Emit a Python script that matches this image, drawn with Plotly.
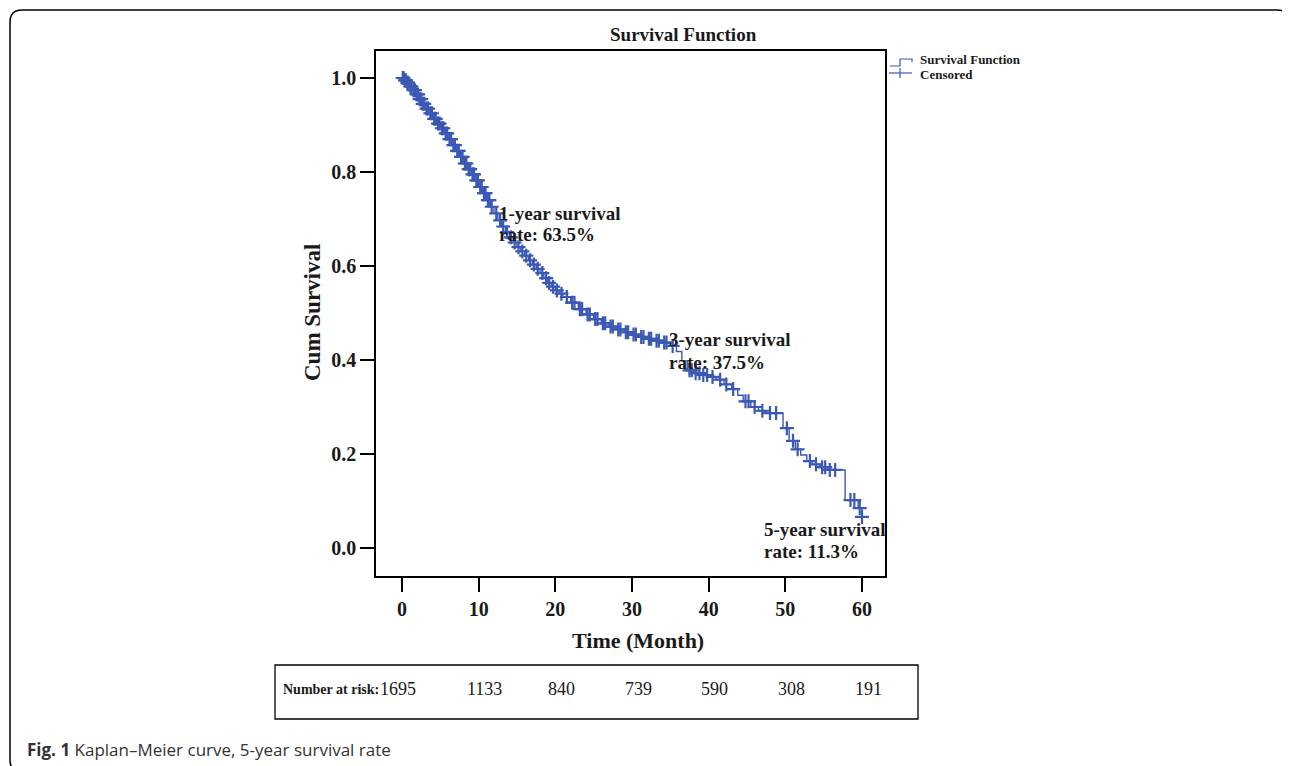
import numpy as np
import plotly.graph_objects as go

# page body has an 8px margin; the figure is shifted by OFF and sized to fit
OFF = 8
W, H = 1290 - OFF, 766 - OFF

# Kaplan-Meier step function
km_time = [0, 0.3, 0.6, 1.0, 1.4, 1.8, 2.2, 2.6, 3.0, 3.5, 4.0, 4.5, 5.0, 5.5, 6.0, 6.5,
           7.0, 7.5, 8.0, 8.5, 9.0, 9.5, 10.0, 10.5, 11.0, 11.5, 12.0, 12.5, 13.0, 13.5,
           14.0, 14.5, 15.0, 15.5, 16.0, 16.5, 17.0, 17.5, 18.0, 18.5, 19.0, 19.5, 20.0,
           20.5, 21.0, 22.0, 23.0, 24.0, 25.0, 26.0, 27.0, 28.0, 29.0, 30.0, 31.0, 32.0,
           33.0, 34.0, 35.0, 35.8, 36.5, 37.2, 38.0, 39.0, 40.0, 41.0, 42.0, 43.0, 43.8,
           44.5, 45.5, 46.5, 47.5, 49.7, 50.5, 51.3, 52.0, 52.8, 53.5, 54.5, 55.5, 57.8,
           59.5, 60.0]
km_surv = [1.000, 0.995, 0.990, 0.982, 0.974, 0.965, 0.955, 0.945, 0.935, 0.925, 0.913,
           0.903, 0.893, 0.882, 0.870, 0.857, 0.845, 0.832, 0.818, 0.806, 0.795, 0.782,
           0.768, 0.755, 0.740, 0.726, 0.712, 0.697, 0.684, 0.672, 0.661, 0.650, 0.640,
           0.631, 0.622, 0.612, 0.603, 0.594, 0.585, 0.574, 0.564, 0.556, 0.548, 0.541,
           0.534, 0.522, 0.508, 0.497, 0.487, 0.478, 0.471, 0.465, 0.459, 0.454, 0.449,
           0.445, 0.441, 0.437, 0.430, 0.418, 0.398, 0.378, 0.372, 0.368, 0.364, 0.358,
           0.348, 0.338, 0.325, 0.312, 0.300, 0.292, 0.287, 0.255, 0.228, 0.210, 0.198,
           0.185, 0.178, 0.172, 0.166, 0.102, 0.085, 0.066]

# censoring times
censor_time = [0.1, 0.2, 0.4, 0.5, 0.7, 0.8, 1.1, 1.2, 1.5, 1.7, 1.9, 2.1, 2.3, 2.5, 2.7,
               2.9, 3.2, 3.4, 3.7, 3.9, 4.2, 4.4, 4.7, 4.9, 5.2, 5.4, 5.7, 5.9, 6.2, 6.4,
               6.7, 6.9, 7.2, 7.4, 7.7, 7.9, 8.2, 8.4, 8.7, 8.9, 9.2, 9.4, 9.7, 9.9, 10.2,
               10.4, 10.7, 10.9, 11.2, 11.4, 11.7, 12.3, 12.8, 13.2, 13.7, 14.2, 14.7, 15.2,
               15.7, 16.2, 16.7, 17.2, 17.7, 18.3, 18.8, 19.2, 19.7, 20.2, 20.8, 21.5, 22.2,
               22.5, 23.2, 23.5, 24.2, 24.5, 25.2, 25.5, 26.2, 26.5, 27.2, 27.5, 28.2, 28.5,
               29.2, 29.5, 30.2, 30.5, 31.2, 31.5, 32.2, 32.5, 33.2, 33.5, 34.2, 34.5, 35.3,
               37.5, 37.8, 38.3, 38.8, 39.3, 39.8, 40.5, 41.5, 42.3, 43.2, 44.8, 45.2, 46.0,
               47.0, 48.0, 48.8, 50.2, 51.0, 51.6, 53.2, 54.0, 54.8, 55.2, 55.8, 56.5, 58.5,
               59.0, 59.7, 60.0]

x_ticks = [0, 10, 20, 30, 40, 50, 60]
y_ticks = [0.0, 0.2, 0.4, 0.6, 0.8, 1.0]
y_tick_labels = ["0.0", "0.2", "0.4", "0.6", "0.8", "1.0"]

risk_times = [0, 10, 20, 30, 40, 50, 60]
risk_counts = ["1695", "1133", "840", "739", "590", "308", "191"]

BLUE = "#3a58b4"
SERIF = "Liberation Serif"
TXT = "#1a1a1a"


def px(x):
    return (x - OFF) / W


def py(y):
    return 1 - (y - OFF) / H


idx = np.searchsorted(np.array(km_time), np.array(censor_time), side="right") - 1
censor_surv = [km_surv[i] for i in idx]

fig = go.Figure()
fig.add_trace(go.Scatter(x=km_time, y=km_surv, mode="lines", line_shape="hv",
                         line=dict(color=BLUE, width=1.4), showlegend=False,
                         name="Survival Function"))
fig.add_trace(go.Scatter(x=censor_time, y=censor_surv, mode="markers", showlegend=False,
                         name="Censored",
                         marker=dict(symbol="cross-thin", size=10,
                                     line=dict(color=BLUE, width=2.2))))

fig.update_xaxes(range=[-3.39, 63.0], domain=[px(376), px(885)], showline=True,
                 linecolor="black", linewidth=1.5, mirror=True, ticks="outside",
                 ticklen=14, tickwidth=1.5, tickcolor="black", tickvals=x_ticks,
                 showgrid=False, zeroline=False,
                 tickfont=dict(family=SERIF, size=20, color=TXT, weight="bold"))
fig.update_yaxes(range=[-0.0596, 1.0574], domain=[py(576), py(51)], showline=True,
                 linecolor="black", linewidth=1.5, mirror=True, ticks="outside",
                 ticklen=14, tickwidth=1.5, tickcolor="black", tickvals=y_ticks,
                 ticktext=y_tick_labels, showgrid=False, zeroline=False,
                 tickfont=dict(family=SERIF, size=20, color=TXT, weight="bold"))

ann = []


def text(x, y, s, size, xanchor="center", bold=True, family=SERIF, color=TXT, **kw):
    ann.append(dict(x=px(x), y=py(y), xref="paper", yref="paper", text=s,
                    showarrow=False, xanchor=xanchor, yanchor="middle",
                    font=dict(family=family, size=size, color=color,
                              weight="bold" if bold else "normal"), **kw))


text(684, 34, "Survival Function", 19)
text(312, 313, "Cum Survival", 23, textangle=-90)
text(638, 640, "Time (Month)", 22)

text(497, 213, "1-year survival", 19, xanchor="left")
text(497, 234, "rate: 63.5%", 19, xanchor="left")
text(667, 340, "3-year survival", 19, xanchor="left")
text(667, 362, "rate: 37.5%", 19, xanchor="left")
text(762, 529, "5-year survival", 19, xanchor="left")
text(762, 551, "rate: 11.3%", 19, xanchor="left")

# legend
text(918, 60, "Survival Function", 13, xanchor="left")
text(918, 74, "Censored", 13, xanchor="left")

# number at risk
text(381, 689, "Number at risk:", 14, xanchor="right")
for i, (t, c) in enumerate(zip(risk_times, risk_counts)):
    if i == 0:
        ann.append(dict(x=px(378), y=py(689), xref="paper", yref="paper", text=c,
                        showarrow=False, xanchor="left", yanchor="middle",
                        font=dict(family=SERIF, size=18, color=TXT)))
    else:
        ann.append(dict(x=t, y=py(689), xref="x", yref="paper", text=c, showarrow=False,
                        xanchor="center", yanchor="middle", xshift=6,
                        font=dict(family=SERIF, size=18, color=TXT)))

# caption
ann.append(dict(x=px(25), y=py(749), xref="paper", yref="paper",
                text="<b>Fig. 1</b> Kaplan–Meier curve, 5-year survival rate",
                showarrow=False, xanchor="left", yanchor="middle",
                font=dict(family="Open Sans", size=17, color="#333333")))

shapes = []
# outer rounded frame
r = 12
x0, y0, x1, y1 = 10, 10, 1289, 772
path = (f"M {px(x0)},{py(y0 + r)} Q {px(x0)},{py(y0)} {px(x0 + r)},{py(y0)} "
        f"L {px(x1 - r)},{py(y0)} Q {px(x1)},{py(y0)} {px(x1)},{py(y0 + r)} "
        f"L {px(x1)},{py(y1 - r)} Q {px(x1)},{py(y1)} {px(x1 - r)},{py(y1)} "
        f"L {px(x0 + r)},{py(y1)} Q {px(x0)},{py(y1)} {px(x0)},{py(y1 - r)} Z")
shapes.append(dict(type="path", xref="paper", yref="paper", path=path,
                   line=dict(color="black", width=1.5)))
# number at risk box
shapes.append(dict(type="rect", xref="paper", yref="paper", x0=px(275), x1=px(918),
                   y0=py(665), y1=py(719), line=dict(color="black", width=1.3)))
# legend symbols
lp = (f"M {px(890)},{py(66)} L {px(900)},{py(66)} L {px(900)},{py(59)} "
      f"L {px(912)},{py(59)} L {px(912)},{py(62)}")
shapes.append(dict(type="path", xref="paper", yref="paper", path=lp,
                   line=dict(color=BLUE, width=1.2)))
shapes.append(dict(type="line", xref="paper", yref="paper", x0=px(889), x1=px(912),
                   y0=py(73), y1=py(73), line=dict(color=BLUE, width=1.2)))
shapes.append(dict(type="line", xref="paper", yref="paper", x0=px(900), x1=px(900),
                   y0=py(68), y1=py(78), line=dict(color=BLUE, width=1.2)))

fig.update_layout(width=W, height=H, margin=dict(l=0, r=0, t=0, b=0),
                  paper_bgcolor="white", plot_bgcolor="white",
                  annotations=ann, shapes=shapes, showlegend=False)

fig.write_html("out.html")
